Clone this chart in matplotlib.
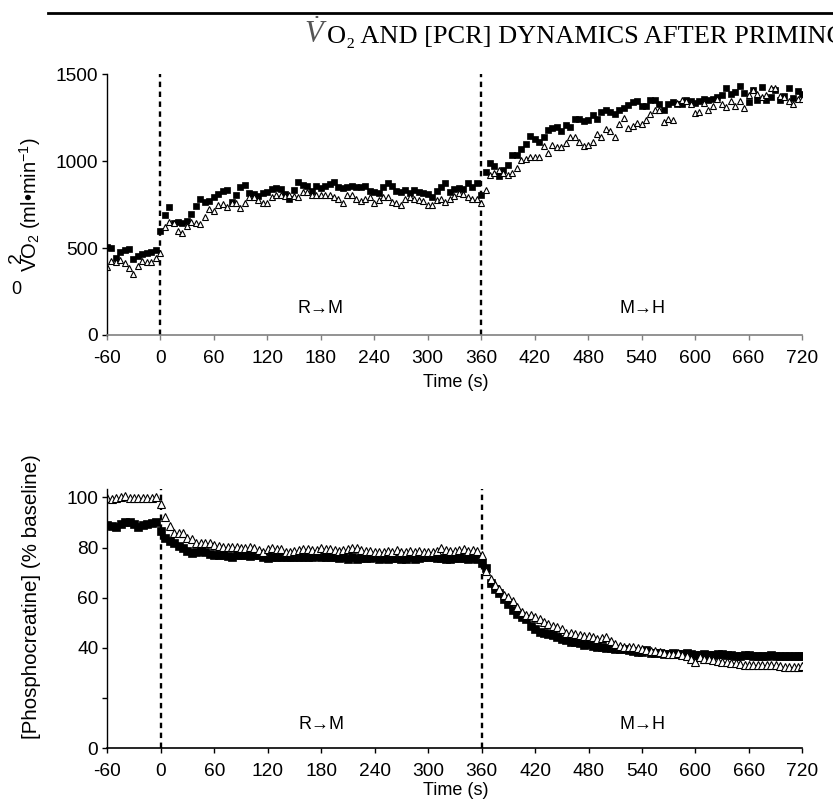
import matplotlib
matplotlib.use("Agg")
from matplotlib import pyplot as plt
from matplotlib.lines import Line2D

# sample times, every 5 s from -60 to 720
time_s = list(range(-60, 721, 5))

vo2_filled = [505, 500, 445, 475, 490, 495, 435, 455, 465, 470, 475, 490,
              600, 688, 738, 642, 651, 646, 657, 695, 743, 780, 766, 772, 791, 810, 829, 833, 766, 805,
              849, 862, 818, 810, 799, 814, 824, 837, 843, 837, 810, 780, 833, 881, 862, 856, 829, 856,
              843, 856, 868, 881, 851, 843, 849, 856, 849, 849, 856, 829, 824, 814, 851, 875, 856, 829,
              824, 833, 818, 833, 824, 814, 810, 791, 829, 852, 875, 824, 837, 843, 837, 875, 852, 875, 805,
              939, 990, 971, 914, 948, 977, 1034, 1034, 1067, 1101, 1144, 1125, 1111, 1140, 1178, 1188, 1197,
              1172, 1207, 1194, 1240, 1245, 1232, 1236, 1264, 1240, 1284, 1297, 1284, 1270, 1293, 1308,
              1322, 1341, 1347, 1316, 1316, 1351, 1351, 1328, 1297, 1328, 1341, 1331, 1328, 1351, 1347,
              1335, 1347, 1360, 1354, 1360, 1370, 1379, 1418, 1389, 1398, 1431, 1393, 1341, 1408, 1354,
              1427, 1351, 1370, 1412, 1354, 1374, 1418, 1366, 1404, 1389]

vo2_open = [393, 425, 421, 430, 416, 383, 349, 398, 427, 421, 421, 440,
            473, 619, 651, 646, 600, 588, 626, 651, 646, 636, 680, 722, 715, 747, 753, 738, 757, 761,
            732, 761, 795, 791, 776, 757, 757, 791, 808, 808, 799, 805, 799, 795, 820, 820, 805, 805,
            805, 805, 805, 795, 780, 757, 805, 805, 785, 772, 785, 795, 757, 776, 795, 795, 766, 757,
            747, 780, 791, 785, 776, 772, 747, 747, 776, 780, 766, 785, 799, 815, 810, 791, 780, 780, 757,
            833, 920, 929, 948, 929, 920, 929, 958, 1006, 1010, 1021, 1021, 1021, 1086, 1044, 1092, 1082,
            1082, 1105, 1136, 1140, 1111, 1086, 1092, 1111, 1155, 1136, 1182, 1174, 1136, 1213, 1251,
            1188, 1201, 1220, 1213, 1236, 1270, 1293, 1297, 1226, 1240, 1236,
            1335, 1351, 1347, 1331, 1278, 1284, 1335, 1297, 1316, 1356, 1331, 1312, 1347, 1316, 1347,
            1308, 1379, 1408, 1384, 1370, 1379, 1418, 1418, 1374, 1370, 1347, 1328, 1360, 1360]

pcr_filled = [89.0, 88.6, 88.3, 89.4, 90.2, 90.3, 89.4, 88.3, 89.0, 89.4, 89.8, 90.3,
              86.7, 83.7, 82.7, 81.9, 80.6, 79.7, 78.7, 77.9, 78.3, 78.7, 78.3, 77.4, 77.0, 77.0, 77.0,
              76.7, 76.3, 77.0, 77.0, 77.0, 76.7, 77.0, 77.0, 76.1, 75.7, 76.1, 76.3, 76.3, 76.1, 76.3,
              76.3, 76.1, 76.3, 76.3, 76.3, 76.7, 76.3, 76.1, 76.1, 76.3, 75.7, 76.1, 75.3, 76.3, 75.3,
              75.7, 75.7, 75.7, 76.1, 75.3, 75.7, 75.3, 75.7, 75.7, 75.3, 75.3, 76.1, 75.3, 75.7, 76.1,
              76.1, 76.1, 75.7, 75.7, 75.3,
              75.5, 75.7, 75.7, 75.7, 75.5, 75.7, 75.3,
              73.7, 71.7, 66.0, 63.4, 62.0, 59.4, 57.5, 55.1, 53.5, 52.2, 51.4, 48.7, 47.4, 46.5, 46.1,
              45.5, 45.1, 44.2, 43.4, 43.1, 42.5, 42.5, 41.8, 41.2, 41.6, 40.8, 40.5, 40.2, 39.8, 39.8,
              39.4, 39.4, 39.4, 39.2, 38.9, 38.5, 38.5, 39.2, 38.1, 38.1, 37.8, 37.6, 37.6, 37.8, 37.6,
              37.6, 37.8, 37.6, 37.2, 37.2, 37.6, 37.2, 37.2, 37.6, 37.6, 37.2, 37.2, 36.8, 36.8, 37.2,
              37.2, 36.8, 36.8, 36.8, 36.8, 37.2, 36.8, 36.8, 36.8, 36.8, 36.8, 36.8, 36.8]

pcr_open = [99.6, 99.4, 99.6, 100.2, 100.4, 99.8, 99.6, 99.8, 99.6, 99.6, 99.8, 100.0,
            97.3, 92.3, 88.6, 85.9, 85.9, 85.9, 84.0, 83.3, 81.7, 81.8, 81.8, 81.7, 81.0, 80.6, 80.3,
            80.3, 80.3, 80.3, 79.9, 79.9, 80.3, 80.0, 79.0, 78.3, 79.3, 79.7, 79.3, 79.3, 78.3, 78.3,
            78.6, 79.0, 79.3, 79.3, 79.0, 79.0, 79.7, 79.3, 79.3, 79.0, 78.6, 79.0, 79.3, 79.7, 79.7,
            79.0, 78.6, 78.6, 78.3, 78.3, 78.3, 78.6, 78.3, 79.0, 78.3, 78.3, 78.6, 78.3, 78.6, 78.3,
            78.3, 78.3, 78.6, 79.9, 79.0,
            78.8, 78.6, 79.0, 79.3, 78.8, 79.0, 78.8,
            77.0, 70.8, 67.5, 65.0, 63.5, 61.1, 60.4, 58.8, 56.2, 54.4, 53.1, 53.1, 52.2, 51.4, 50.4,
            49.5, 48.7, 48.2, 47.4, 46.1, 45.8, 45.5, 45.1, 44.7, 44.7, 44.2, 43.4, 43.8, 44.2, 42.9,
            41.6, 40.8, 40.5, 40.5, 40.2, 39.8, 39.4, 39.0, 38.8, 38.6, 38.2, 38.0, 37.5, 37.6, 37.8,
            37.0, 36.8, 35.5, 34.5, 36.5, 35.5, 35.5, 35.2, 34.9, 34.5, 34.5, 34.1, 33.9, 33.6, 33.2,
            33.2, 33.2, 33.2, 33.2, 33.2, 33.2, 33.2, 32.8, 32.5, 32.5, 32.5, 32.5, 32.8]

time_ticks = list(range(-60, 721, 60))
phase_labels = ["R→M", "M→H"]
phase_centres = [180, 541]
phase_starts = [0, 360]

plt.rcParams['font.family'] = ['Liberation Sans', 'DejaVu Sans']
plt.rcParams['mathtext.fontset'] = 'custom'
plt.rcParams['mathtext.rm'] = 'Liberation Sans'
plt.rcParams['mathtext.it'] = 'Liberation Serif:italic'
plt.rcParams['mathtext.bf'] = 'Liberation Sans:bold'


def draw_panel(ax, filled, opened, ymax, yticks, ylabels, xcolor, label_y, msize):
    ax.plot(time_s, filled, 's', ms=msize, color='black', mec='black', mew=0.5)
    ax.plot(time_s, opened, '^', ms=msize, mfc='white', mec='black', mew=0.8)
    for t in phase_starts:
        ax.axvline(t, color='black', lw=1.7, ls=(0, (2.3, 1.9)), zorder=1)
    for name, t in zip(phase_labels, phase_centres):
        ax.text(t, label_y, name, ha='center', va='center', fontsize=13)
    ax.set_xlim(-60, 720)
    ax.set_ylim(0, ymax)
    ax.set_xticks(time_ticks)
    ax.set_xticklabels([str(t) for t in time_ticks])
    ax.set_yticks(yticks)
    ax.set_yticklabels(ylabels)
    for s in ['top', 'right']:
        ax.spines[s].set_visible(False)
    ax.spines['left'].set_linewidth(1.0)
    ax.spines['bottom'].set_linewidth(1.2)
    ax.spines['bottom'].set_color(xcolor)
    ax.tick_params(axis='both', direction='out', length=3.5, width=1.0, labelsize=13.8)
    ax.tick_params(axis='x', pad=7, color=xcolor)
    ax.tick_params(axis='y', pad=3)
    ax.set_xlabel("Time (s)", fontsize=13)


def main():
    fig = plt.figure(figsize=(8.33, 8.05), dpi=100)
    ax1 = fig.add_axes([0.1281, 0.5839, 0.8347, 0.3239])
    ax2 = fig.add_axes([0.1288, 0.0704, 0.8345, 0.3217])

    draw_panel(ax1, vo2_filled, vo2_open, 1500, [0, 500, 1000, 1500],
               ['0', '500', '1000', '1500'], '#808080', 150, 4.8)
    ax1.set_ylabel(r"VO$_2$ (ml•min$^{-1}$)", fontsize=14.5)
    ax1.yaxis.set_label_coords(-0.091, 0.5)
    ax1.xaxis.set_label_coords(0.502, -0.15)

    draw_panel(ax2, pcr_filled, pcr_open, 103.2, [0, 20, 40, 60, 80, 100],
               ['0', '', '40', '60', '80', '100'], 'black', 9.3, 5.2)
    ax2.set_ylabel("[Phosphocreatine] (% baseline)", fontsize=14.8)
    ax2.yaxis.set_label_coords(-0.095, 0.584)
    ax2.xaxis.set_label_coords(0.502, -0.13)

    # stray glyphs left over from the dot accent in the original
    fig.text(16 / 833, 1 - 290 / 805, "0", ha='center', va='center', fontsize=13)
    fig.text(17 / 833, 1 - 258 / 805, "2", ha='center', va='center', fontsize=14, rotation=90)

    # running header
    fig.add_artist(Line2D([48 / 833, 1.0], [1 - 13 / 805, 1 - 13 / 805], color='black', lw=2.0))
    fig.text(304 / 833, 1 - 43 / 805, r"$\dot{V}$", fontsize=22, va='baseline', color='#555555')
    fig.text(327 / 833, 1 - 43 / 805, "O₂ AND [PCR] DYNAMICS AFTER PRIMING",
             family=['Liberation Serif', 'DejaVu Serif'], fontsize=19, va='baseline')

    fig.savefig("out.png", dpi=100)


if __name__ == '__main__':
    main()
